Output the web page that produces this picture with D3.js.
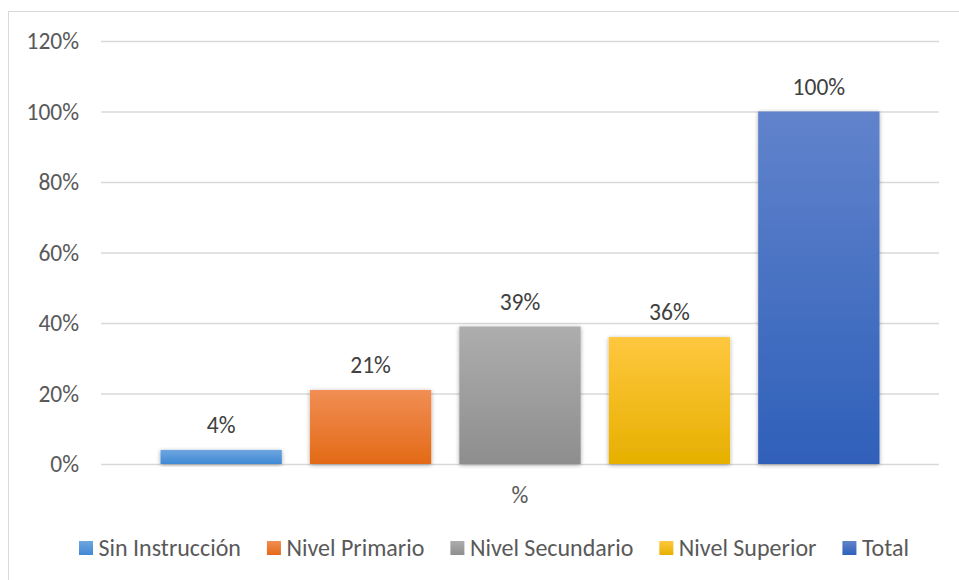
<!DOCTYPE html>
<html>
<head>
<meta charset="utf-8">
<script src="https://cdn.jsdelivr.net/npm/d3@7"></script>
<style>
  body { margin: 0; background: #fff; }
  svg { display: block; font-family: Carlito, Calibri, "Open Sans", sans-serif; }
</style>
</head>
<body>
<div class="svg"></div>
<script>
// ______________________________ data ______________________________
const categories = ["Sin Instrucción", "Nivel Primario", "Nivel Secundario", "Nivel Superior", "Total"];
const values = [0.04, 0.21, 0.39, 0.36, 1.00];
const valueLabels = ["4%", "21%", "39%", "36%", "100%"];
const groupLabel = ["%"];
const yTicks = [0, 0.2, 0.4, 0.6, 0.8, 1.0, 1.2];

// top / bottom colours of each bar gradient
const colorTop = ["#6EA6DF", "#F18E54", "#ADADAD", "#FFC73F", "#6183CC"];
const colorBottom = ["#3F89D4", "#E36A17", "#8E8E8E", "#E6B000", "#2F60B9"];

// ______________________________ chart ______________________________
const width = 959;
const height = 580;
const margin = {top: 41, right: 20, bottom: 116, left: 101};
const fontSize = "23.5px";

const svg = d3.select(".svg")
    .append("svg")
    .attr("width", width)
    .attr("height", height);

const defs = svg.append("defs");

categories.forEach((c, i) => {
    const g = defs.append("linearGradient")
        .attr("id", "grad" + i)
        .attr("x1", 0).attr("y1", 0)
        .attr("x2", 0).attr("y2", 1);
    g.append("stop").attr("offset", "0%").attr("stop-color", colorTop[i]);
    g.append("stop").attr("offset", "100%").attr("stop-color", colorBottom[i]);
});

const shadow = defs.append("filter")
    .attr("id", "shadow")
    .attr("x", "-20%").attr("y", "-20%")
    .attr("width", "140%").attr("height", "140%");
shadow.append("feDropShadow")
    .attr("dx", 0).attr("dy", 1)
    .attr("stdDeviation", 2)
    .attr("flood-color", "#000")
    .attr("flood-opacity", 0.35);

// chart border
svg.append("rect")
    .attr("x", 8.5).attr("y", 11.5)
    .attr("width", 960).attr("height", 580)
    .attr("fill", "none")
    .attr("stroke", "#D9D9D9");

const yScale = d3.scaleLinear()
    .domain([0, 1.2])
    .range([464, margin.top]);

const xGroup = d3.scaleBand()
    .domain(groupLabel)
    .range([margin.left, 939]);

const xScale = d3.scaleBand()
    .domain(categories)
    .range([xGroup(groupLabel[0]) + 59.5, xGroup(groupLabel[0]) + xGroup.bandwidth() - 59.5])
    .paddingInner(0.188);

// gridlines + y labels
const yAxis = svg.append("g")
    .attr("transform", `translate(${margin.left},0)`)
    .call(d3.axisLeft(yScale)
        .tickValues(yTicks)
        .tickSize(-(939 - margin.left))
        .tickPadding(22)
        .tickFormat(d3.format(".0%")));
yAxis.select(".domain").remove();
yAxis.selectAll(".tick line")
    .attr("stroke", "#D9D9D9")
    .attr("stroke-width", 1.3);
yAxis.selectAll(".tick text")
    .attr("fill", "#595959")
    .attr("font-size", fontSize)
    .attr("font-family", "Carlito, Calibri, 'Open Sans', sans-serif");

// bars
svg.append("g")
    .selectAll("rect")
    .data(values)
    .join("rect")
        .attr("x", (d, i) => xScale(categories[i]))
        .attr("y", d => yScale(d))
        .attr("width", xScale.bandwidth())
        .attr("height", d => yScale(0) - yScale(d))
        .attr("fill", (d, i) => `url(#grad${i})`)
        .attr("filter", "url(#shadow)");

// value labels
svg.append("g")
    .selectAll("text")
    .data(values)
    .join("text")
        .attr("x", (d, i) => xScale(categories[i]) + xScale.bandwidth() / 2)
        .attr("y", d => yScale(d) - 17)
        .attr("text-anchor", "middle")
        .attr("fill", "#404040")
        .attr("font-size", fontSize)
        .text((d, i) => valueLabels[i]);

// x category label
svg.append("text")
    .attr("x", xGroup(groupLabel[0]) + xGroup.bandwidth() / 2)
    .attr("y", 503)
    .attr("text-anchor", "middle")
    .attr("fill", "#595959")
    .attr("font-size", fontSize)
    .text(groupLabel[0]);

// legend
const legend = svg.append("g").attr("transform", "translate(0,548)");
const items = legend.selectAll("g")
    .data(categories)
    .join("g");
items.append("rect")
    .attr("y", -7).attr("width", 14).attr("height", 14)
    .attr("fill", (d, i) => `url(#grad${i})`);
items.append("text")
    .attr("x", 19.5)
    .attr("dy", "0.35em")
    .attr("fill", "#595959")
    .attr("font-size", "24px")
    .text(d => d);

// lay out legend items left to right
let widths = [];
items.each(function() {
    widths.push(19.5 + d3.select(this).select("text").node().getComputedTextLength());
});
const gap = 26;
let cx = 79;
items.attr("transform", (d, i) => {
    const t = `translate(${cx},0)`;
    cx += widths[i] + gap;
    return t;
});
</script>
</body>
</html>
